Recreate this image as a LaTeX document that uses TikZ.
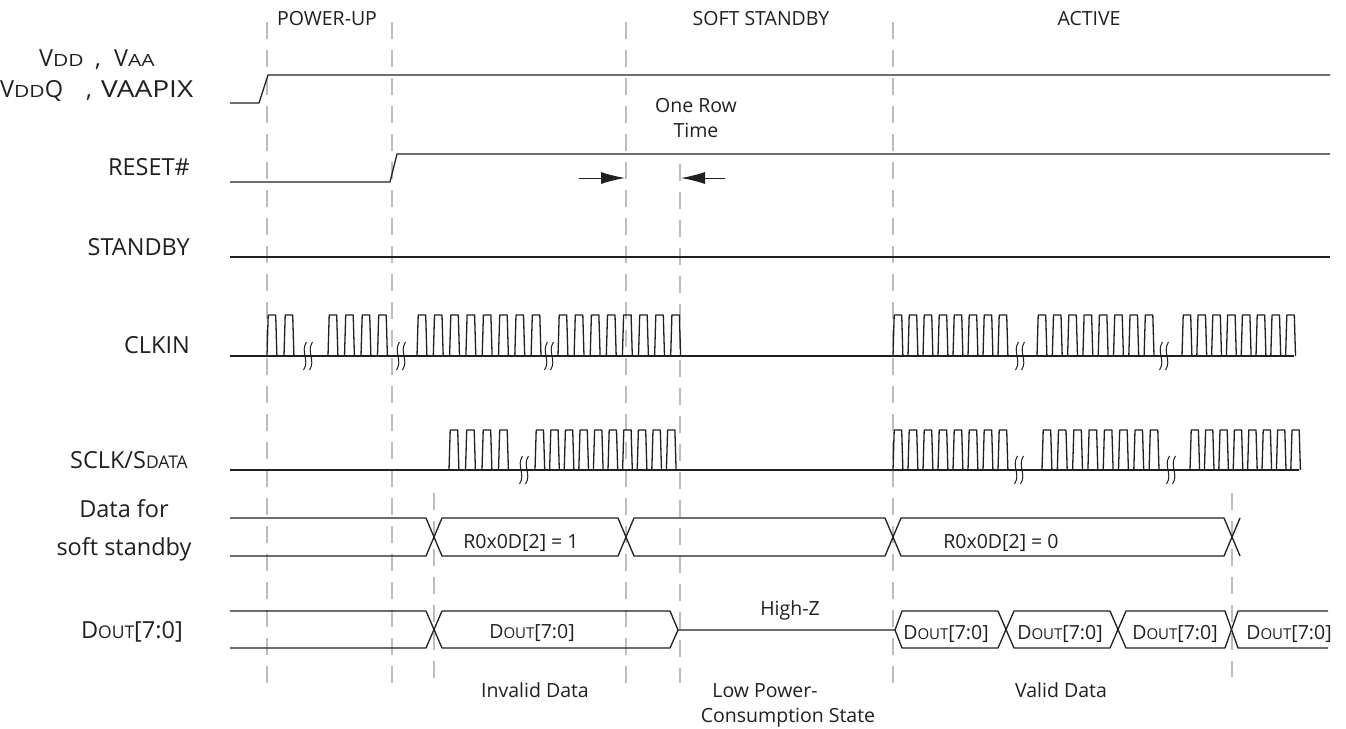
\documentclass[tikz,border=0pt]{standalone}
\usepackage{fontspec}
\setmainfont{Open Sans}
\usetikzlibrary{arrows.meta}
\definecolor{ink}{HTML}{231F20}
\definecolor{guide}{HTML}{BDBDBD}
\newcommand\lbl{\fontsize{23.5}{27}\selectfont}
\newcommand\lsc[1]{{\fontsize{17.5}{20}\selectfont #1}}
\newcommand\wsc[1]{\scalebox{1}[0.8]{\fontsize{21}{24}\selectfont #1}}
\newcommand\txt{\fontsize{19.5}{23}\selectfont}
\newcommand\tsc[1]{{\fontsize{15}{17}\selectfont #1}}
% clock segment: x0, n, period, high width, y low, y high
\newcommand\clkseg[6]{%
  \foreach \ci in {1,...,#2}{%
    \pgfmathsetmacro\cx{#1+(\ci-1)*#3}%
    \draw[wave] (\cx,#5) -- (\cx+1.2,#6) -- (\cx+1.2+#4,#6) -- (\cx+2.4+#4,#5);
  }}
% break mark pair at x, y
\newcommand\brkmark[2]{%
  \draw[wave,line width=1pt] (#1+1.5,#2-14) .. controls (#1-5,#2-4) and (#1+5,#2+4) .. (#1-1.5,#2+14);
  \draw[wave,line width=1pt] (#1+7.5,#2-14) .. controls (#1+1,#2-4) and (#1+11,#2+4) .. (#1+4.5,#2+14);}
\begin{document}
\begin{tikzpicture}[x=1pt,y=-1pt,
  wave/.style={draw=ink,line width=1.3pt,line join=round},
  guideline/.style={draw=guide,line width=2pt,dash pattern=on 17pt off 11pt},
  lab/.style={text=ink,inner sep=0pt,font=\lbl},
  tx/.style={text=ink,inner sep=0pt,font=\txt},
  rowarrow/.style={draw=ink,line width=1pt,-{Latex[length=24pt,width=12pt]}}]
\useasboundingbox (0,0) rectangle (1346,728);
\fill[white] (0,0) rectangle (1346,728);

% guide lines
\foreach \gx in {267,392,626,893}{\draw[guideline] (\gx,22) -- (\gx,683);}
\draw[guideline] (680,164) -- (680,683);
\draw[guideline] (434,493) -- (434,679);
\draw[guideline] (1232,493) -- (1232,677);

% labels on the left
\node[lab,anchor=base west] (vdd1a) at (39,66) {V\wsc{DD}};
\node[lab,anchor=base] (vdd1b) at (98,66) {,};
\node[lab,anchor=base west] (vdd1c) at (114,66) {V\wsc{AA}};
\node[lab,anchor=base west] (vdd2a) at (0,97) {V\wsc{DD}Q};
\node[lab,anchor=base] (vdd2b) at (89,97) {,};
\node[lab,anchor=base west] (vdd2c) at (101,97) {\resizebox{92pt}{\height}{VAAPIX}};
\node[lab,anchor=base east] (rst) at (190,175) {RESET\#};
\node[lab,anchor=base east] (stb) at (190,255) {STANDBY};
\node[lab,anchor=base east] (clk) at (190,353) {CLKIN};
\node[lab,anchor=base east] (sclk) at (188,468) {SCLK/S\lsc{DATA}};
\node[lab,anchor=base] (dfs1) at (124,517) {Data for};
\node[lab,anchor=base] (dfs2) at (124,555) {soft standby};
\node[lab,anchor=base east] (dout) at (183,638) {D\lsc{OUT}[7:0]};

% phase titles
\node[tx,anchor=base] (pu) at (327,25) {POWER-UP};
\node[tx,anchor=base] (ss) at (761,25) {SOFT STANDBY};
\node[tx,anchor=base] (act) at (1089,25) {ACTIVE};

% supplies, reset, standby
\draw[wave] (230,103) -- (259,103) -- (268,75) -- (1330,75);
\draw[wave] (230,182) -- (390,182) -- (397,154) -- (1330,154);
\draw[wave] (230,257) -- (1330,257);

% one row time
\node[tx,anchor=base] (orw1) at (696,112) {One Row};
\node[tx,anchor=base] (orw2) at (696,137) {Time};
\coordinate (ral) at (579,178);
\coordinate (rar) at (625,178);
\coordinate (lal) at (681,178);
\coordinate (lar) at (725,178);
\draw[rowarrow] (ral) -- (rar);
\draw[rowarrow] (lar) -- (lal);

% CLKIN
\draw[wave] (230,356) -- (1294,356);
\clkseg{267}{2}{17}{7.5}{356}{315}
\clkseg{328}{4}{16.5}{7.5}{356}{315}
\clkseg{417}{8}{16.3}{7.5}{356}{315}
\clkseg{558}{8}{16.1}{7.5}{356}{315}
\clkseg{893}{8}{15}{7.5}{356}{315}
\clkseg{1037}{8}{15.3}{7.5}{356}{315}
\clkseg{1182}{8}{14.8}{7.5}{356}{315}
\brkmark{305}{356}
\brkmark{398}{356}
\brkmark{546}{356}
\brkmark{1017}{356}
\brkmark{1161}{356}

% SCLK/SDATA
\draw[wave] (230,470) -- (1299,470);
\clkseg{449}{4}{16.5}{7.5}{470}{430}
\clkseg{535}{10}{14.6}{7.3}{470}{430}
\clkseg{893}{8}{15}{7.5}{470}{430}
\clkseg{1042}{8}{15.3}{7.5}{470}{430}
\clkseg{1190}{8}{14.4}{7.2}{470}{430}
\brkmark{521}{470}
\brkmark{1016}{470}
\brkmark{1168}{470}

% Data for soft standby
\draw[wave] (230,518) -- (426,518) -- (442,556) -- (618,556) -- (634,518) -- (885,518) -- (901,556) -- (1224,556) -- (1240,518);
\draw[wave] (230,556) -- (426,556) -- (442,518) -- (618,518) -- (634,556) -- (885,556) -- (901,518) -- (1224,518) -- (1240,556);
\node[tx,anchor=base] (d1) at (521,548) {R0x0D[2] = 1};
\node[tx,anchor=base] (d0) at (1001,548) {R0x0D[2] = 0};

% Dout
\draw[wave] (230,611) -- (426,611) -- (442,648) -- (670,648) -- (678,630) -- (895,630) -- (902,648) -- (998,648) -- (1014,611) -- (1110,611) -- (1126,648) -- (1225,648) -- (1238,611) -- (1328,611);
\draw[wave] (230,648) -- (426,648) -- (442,611) -- (670,611) -- (678,630);
\draw[wave] (895,630) -- (902,611) -- (998,611) -- (1014,648) -- (1110,648) -- (1126,611) -- (1225,611) -- (1238,648) -- (1328,648);
\node[tx,anchor=base] (o0) at (532,638) {D\tsc{OUT}[7:0]};
\node[tx,anchor=base] (o1) at (946,639) {D\tsc{OUT}[7:0]};
\node[tx,anchor=base] (o2) at (1060,639) {D\tsc{OUT}[7:0]};
\node[tx,anchor=base] (o3) at (1175,639) {D\tsc{OUT}[7:0]};
\node[tx,anchor=base] (o4) at (1289,639) {D\tsc{OUT}[7:0]};
\node[tx,anchor=base] (hz) at (790,615) {High-Z};

% bottom notes
\node[tx,anchor=base] (inv) at (535,697) {Invalid Data};
\node[tx,anchor=base] (lp1) at (765,697) {Low Power-};
\node[tx,anchor=base] (lp2) at (788,722) {Consumption State};
\node[tx,anchor=base] (val) at (1061,697) {Valid Data};
\end{tikzpicture}
\end{document}
